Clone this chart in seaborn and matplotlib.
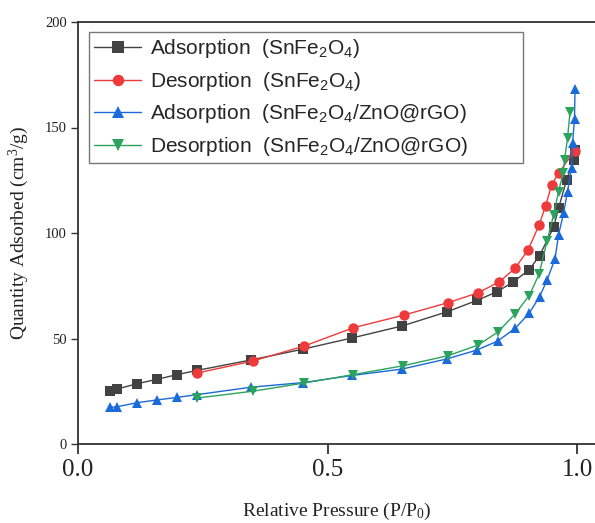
import matplotlib
matplotlib.use("Agg")
import matplotlib.pyplot as plt
import seaborn as sns
import numpy as np

# ---- data ----
ads1_x = [0.064, 0.079, 0.119, 0.159, 0.199, 0.239, 0.346, 0.450, 0.550, 0.649, 0.739,
          0.800, 0.840, 0.872, 0.904, 0.925, 0.953, 0.963, 0.979, 0.993, 0.996]
ads1_y = [25.3, 26.1, 28.6, 30.7, 32.9, 34.9, 39.8, 44.9, 50.3, 55.9, 62.6,
          68.1, 72.2, 76.8, 82.5, 89.3, 102.7, 111.7, 125.1, 134.5, 139.3]

des1_x = [0.995, 0.963, 0.949, 0.937, 0.924, 0.902, 0.876, 0.844, 0.802, 0.742,
          0.653, 0.552, 0.453, 0.350, 0.238]
des1_y = [139.0, 128.3, 122.7, 112.8, 103.8, 92.0, 83.3, 76.8, 71.7, 67.0,
          61.1, 55.1, 46.4, 39.3, 33.6]

ads2_x = [0.065, 0.079, 0.119, 0.159, 0.199, 0.239, 0.346, 0.451, 0.550, 0.649, 0.739,
          0.799, 0.841, 0.876, 0.904, 0.925, 0.940, 0.956, 0.963, 0.973, 0.981, 0.989,
          0.991, 0.995, 0.996]
ads2_y = [17.4, 17.7, 19.6, 20.9, 22.1, 23.4, 26.9, 29.1, 32.5, 35.5, 40.3,
          44.5, 48.8, 54.8, 61.9, 69.8, 77.7, 87.8, 99.1, 109.3, 119.6, 130.6,
          142.8, 153.8, 168.3]

des2_x = [0.986, 0.981, 0.975, 0.972, 0.963, 0.953, 0.940, 0.924, 0.904, 0.876,
          0.842, 0.802, 0.742, 0.652, 0.552, 0.453, 0.350, 0.239]
des2_y = [157.5, 144.9, 134.6, 128.3, 119.6, 108.5, 96.3, 80.4, 70.3, 61.6,
          53.2, 46.9, 41.9, 37.1, 32.9, 28.9, 25.0, 21.8]

labels = [r"Adsorption  (SnFe$\mathsf{_2}$O$\mathsf{_4}$)",
          r"Desorption  (SnFe$\mathsf{_2}$O$\mathsf{_4}$)",
          r"Adsorption  (SnFe$\mathsf{_2}$O$\mathsf{_4}$/ZnO@rGO)",
          r"Desorption  (SnFe$\mathsf{_2}$O$\mathsf{_4}$/ZnO@rGO)"]

x_ticks = [0.0, 0.5, 1.0]
x_tick_labels = ["0.0", "0.5", "1.0"]
y_ticks = [0, 50, 100, 150, 200]

# ---- style ----
sns.set_theme(style="ticks")
plt.rcParams["font.family"] = ["Liberation Serif", "DejaVu Serif"]
plt.rcParams["mathtext.fontset"] = "custom"
plt.rcParams["mathtext.rm"] = "Liberation Serif"
plt.rcParams["mathtext.it"] = "Liberation Serif:italic"
plt.rcParams["mathtext.sf"] = "Liberation Sans"

fig = plt.figure(figsize=(5.95, 5.23), dpi=100)
ax = fig.add_axes([78 / 595, 79 / 523, 517 / 595, 422 / 523])

series = [
    (ads1_x, ads1_y, "s", "#424242", labels[0]),
    (des1_x, des1_y, "o", "#ee3a3a", labels[1]),
    (ads2_x, ads2_y, "^", "#1a6ad9", labels[2]),
    (des2_x, des2_y, "v", "#2ba35c", labels[3]),
]
for xs, ys, mk, col, lab in series:
    sns.lineplot(x=xs, y=ys, sort=False, ax=ax, color=col, marker=mk,
                 markersize=7.5, markeredgewidth=0,
                 linewidth=1.0, label=lab)

ax.set_xlim(0, 517 / 499)
ax.set_ylim(0, 200)
ax.set_xticks(x_ticks)
ax.set_xticklabels(x_tick_labels)
ax.set_yticks(y_ticks)
ax.tick_params(axis="x", labelsize=18, length=7, width=1.2, direction="out", pad=4, colors="#222222")
ax.tick_params(axis="y", labelsize=10.5, length=5, width=1.0, direction="out", pad=3, colors="#333333")
for t in ax.get_xticklabels() + ax.get_yticklabels():
    t.set_color("#222222")

for s in ["left", "bottom", "top"]:
    ax.spines[s].set_color("#333333")
    ax.spines[s].set_linewidth(1.3)
ax.spines["right"].set_visible(False)

ax.set_xlabel(r"Relative Pressure (P/P$_0$)", fontsize=14, labelpad=14, color="#222222")
ax.set_ylabel(r"Quantity Adsorbed (cm$^3$/g)", fontsize=14, labelpad=10, color="#222222")

x0 = (89 - 78) / 517
w = (523 - 89) / 517
ytop = 1 - (32 - 22) / 422
leg = ax.legend(loc="upper left", bbox_to_anchor=(x0, ytop - 0.4, w, 0.4), mode="expand",
                prop={"family": "Liberation Sans", "size": 15},
                frameon=True, fancybox=False, edgecolor="#555555",
                handlelength=2.25, handletextpad=0.45, labelspacing=0.46,
                borderpad=0.25, borderaxespad=0.0, markerscale=1.1)
leg.get_frame().set_linewidth(1.0)

fig.savefig("out.png", dpi=100)
